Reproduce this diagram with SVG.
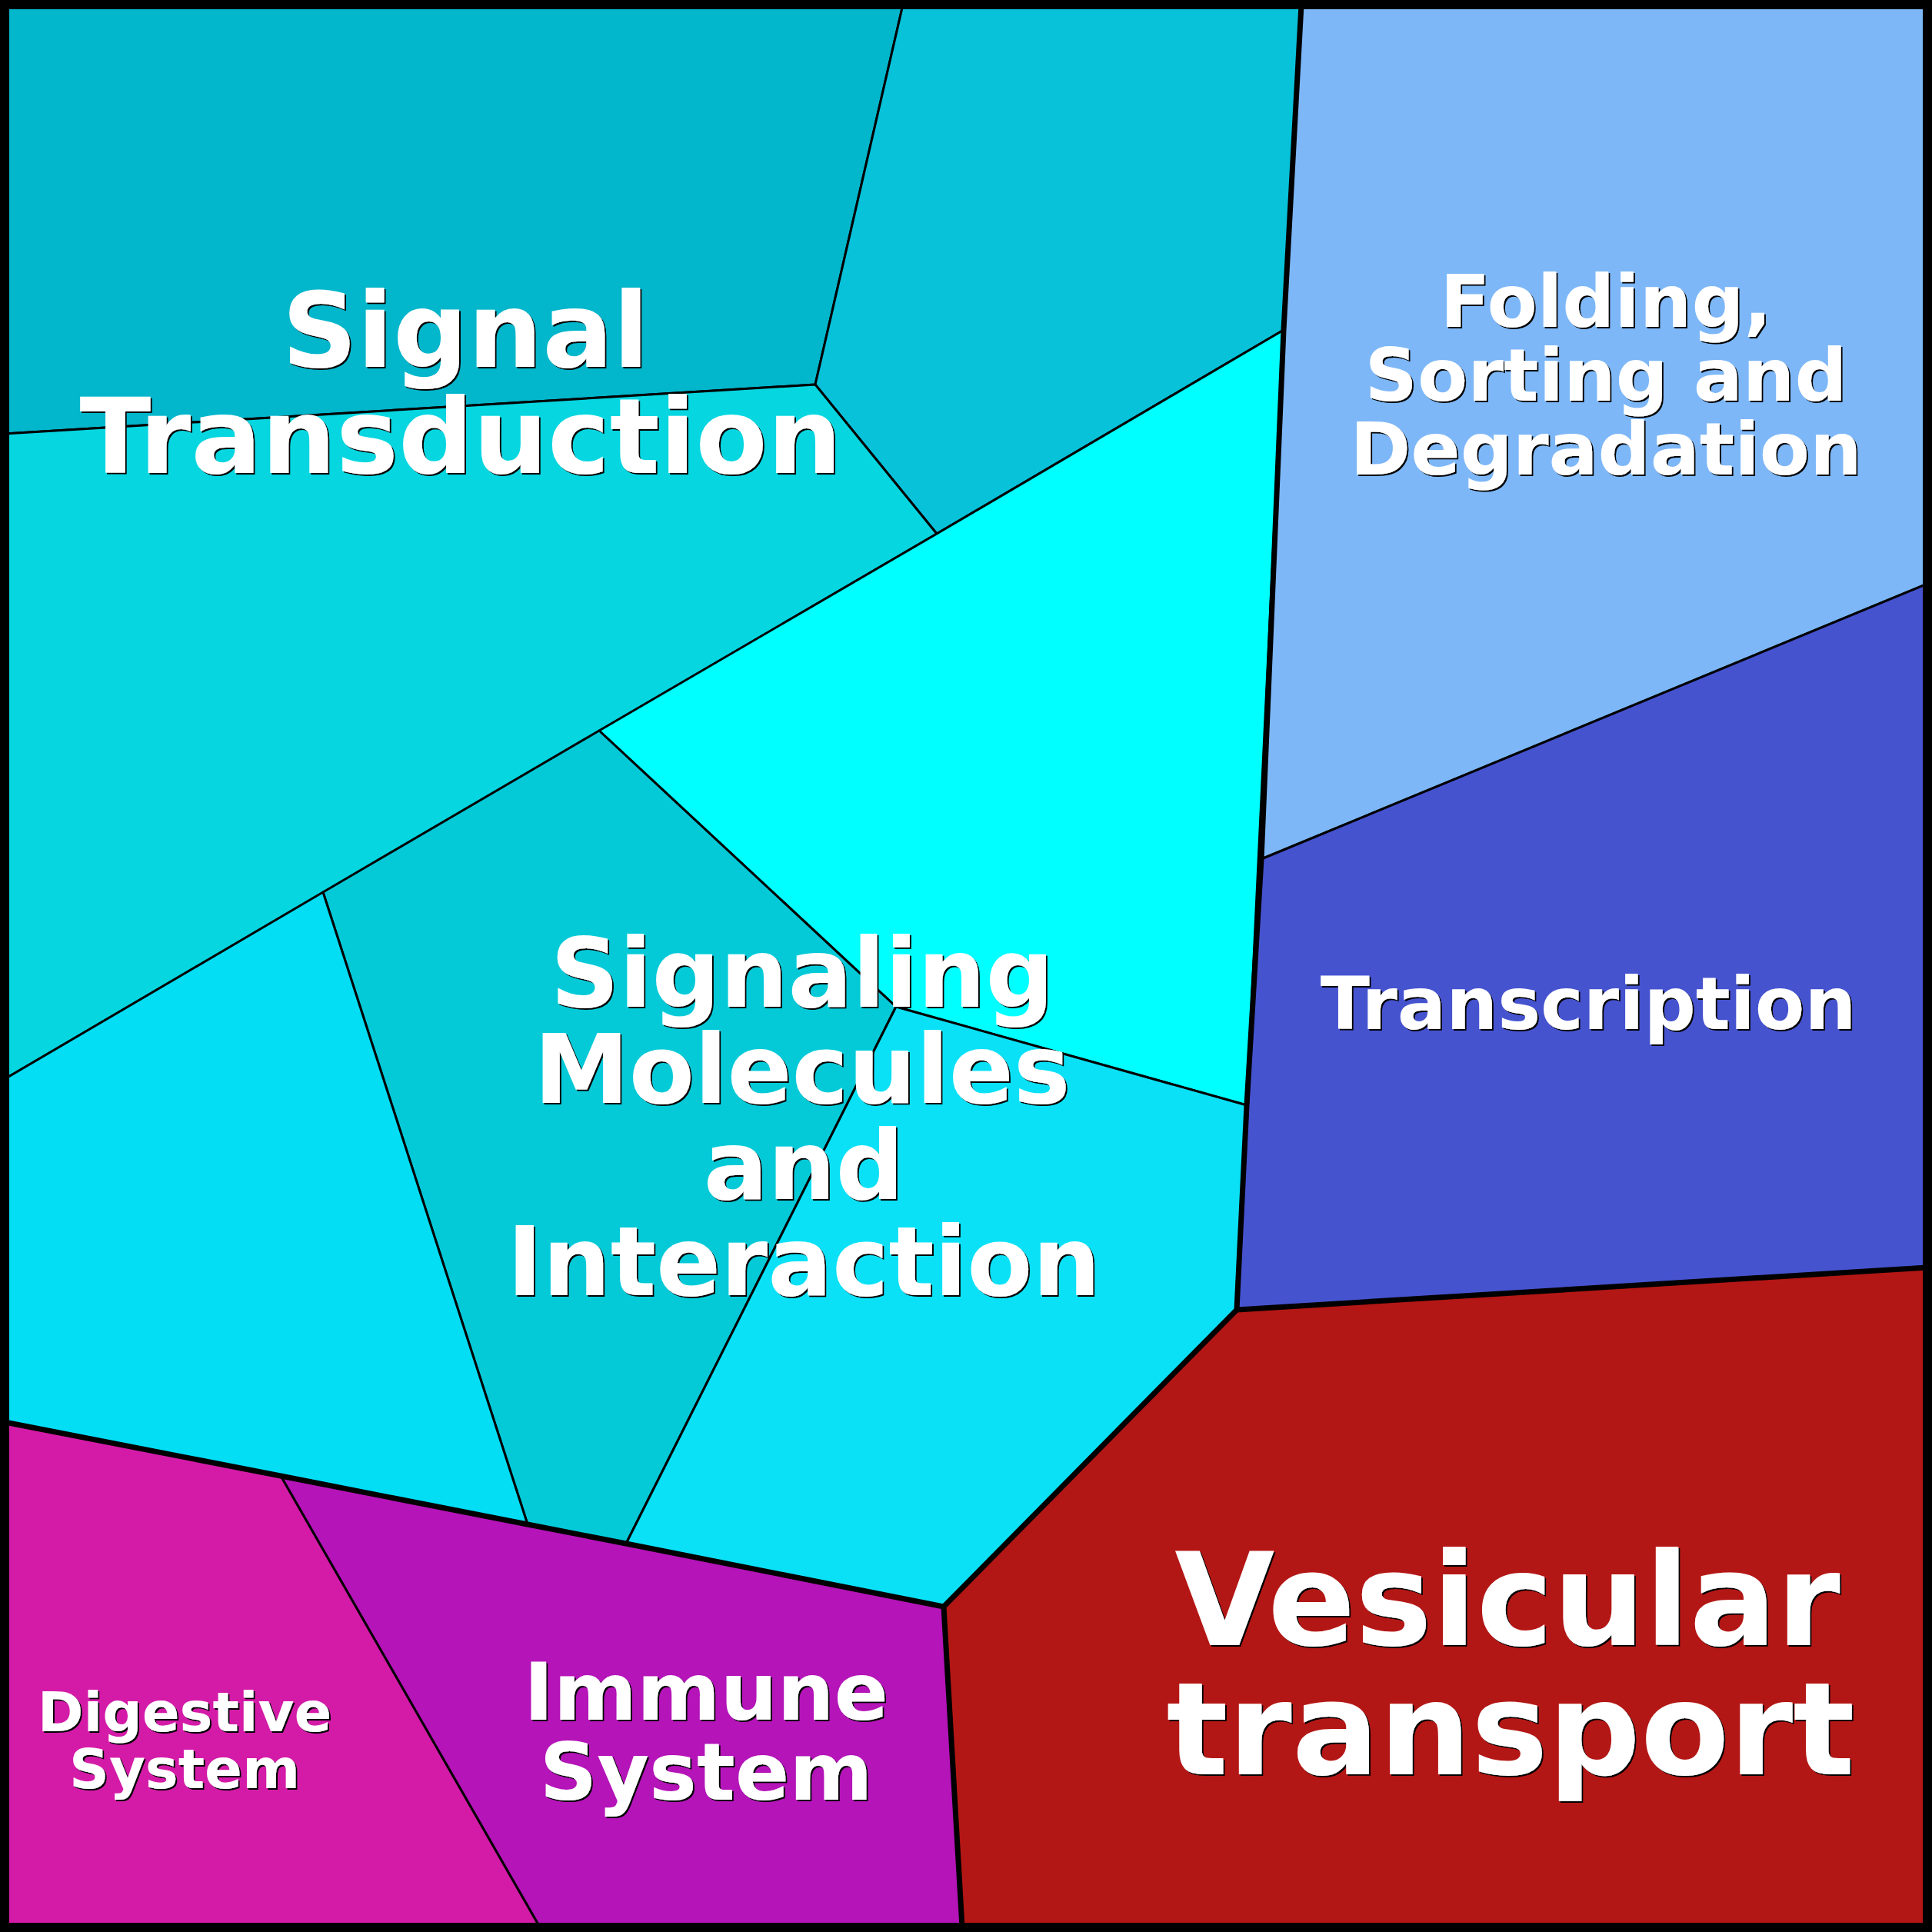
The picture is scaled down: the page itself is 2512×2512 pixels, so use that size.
<svg xmlns="http://www.w3.org/2000/svg" width="2512" height="2512" viewBox="0 0 2512 2512">
<style>
.cell{stroke:#000;stroke-width:3;stroke-linejoin:round}
.thick{fill:none;stroke:#000;stroke-width:7;stroke-linejoin:round}
text{font-family:"DejaVu Sans","Liberation Sans",sans-serif;font-weight:bold;text-anchor:middle;fill:#fff;filter:url(#shadow)}
</style>
<defs>
<filter id="shadow" x="-5%" y="-5%" width="110%" height="110%">
<feDropShadow dx="2" dy="2" stdDeviation="0.6" flood-color="#000" flood-opacity="1"/>
</filter>
</defs>
<g id="signal-transduction">
<polygon class="cell" fill="#02B6CB" points="6,6 1174,6 1060,500 6,564"/>
<polygon class="cell" fill="#08C2DA" points="1174,6 1692,6 1669,429 1218,694 1060,500"/>
<polygon class="cell" fill="#06D6E0" points="6,564 1060,500 1218,694 6,1403"/>
</g>
<g id="signaling-molecules">
<polygon class="cell" fill="#00FFFF" points="1218,694 1669,429 1621,1437 1165,1309 779,950"/>
<polygon class="cell" fill="#04CAD8" points="779,950 1165,1309 814,2007 686,1982 420,1160"/>
<polygon class="cell" fill="#03DEF5" points="6,1403 420,1160 686,1982 6,1849"/>
<polygon class="cell" fill="#0BE1F6" points="1165,1309 1621,1437 1608,1703 1227,2089 814,2007"/>
</g>
<g id="folding">
<polygon class="cell" fill="#7DB7F7" points="1692,6 2506,6 2506,759 1640,1117 1669,429"/>
</g>
<g id="transcription">
<polygon class="cell" fill="#4653CF" points="1640,1117 2506,759 2506,1648 1608,1703"/>
</g>
<g id="vesicular">
<polygon class="cell" fill="#B31715" points="1608,1703 2506,1648 2506,2506 1251,2506 1227,2089"/>
</g>
<g id="immune">
<polygon class="cell" fill="#B414B8" points="365,1919 1227,2089 1251,2506 702,2506"/>
</g>
<g id="digestive">
<polygon class="cell" fill="#D41BA8" points="6,1849 365,1919 702,2506 6,2506"/>
</g>
<g id="connectors">
<polyline class="thick" points="1692,6 1669,429 1640,1117 1621,1437 1608,1703 1227,2089 1251,2506"/>
<polyline class="thick" points="1608,1703 2506,1648"/>
<polyline class="thick" points="6,1849 365,1919 686,1982 814,2007 1227,2089"/>
<rect x="6" y="6" width="2500" height="2500" fill="none" stroke="#000" stroke-width="12"/>
</g>
<g id="labels">
<text font-size="136" x="605" y="477">Signal</text>
<text font-size="136" x="599" y="615">Transduction</text>
<text font-size="95" x="2088" y="425">Folding,</text>
<text font-size="95" x="2088" y="521">Sorting and</text>
<text font-size="95" x="2088" y="617">Degradation</text>
<text font-size="94" x="2065" y="1338">Transcription</text>
<text font-size="124" x="1043" y="1309">Signaling</text>
<text font-size="124" x="1043" y="1434">Molecules</text>
<text font-size="124" x="1045" y="1559">and</text>
<text font-size="124" x="1045" y="1684">Interaction</text>
<text font-size="168" x="1960" y="2139">Vesicular</text>
<text font-size="168" x="1964" y="2307">transport</text>
<text font-size="104" x="918" y="2236">Immune</text>
<text font-size="104" x="918" y="2340">System</text>
<text font-size="72" x="240" y="2251">Digestive</text>
<text font-size="72" x="240" y="2325">System</text>
</g>
</svg>
